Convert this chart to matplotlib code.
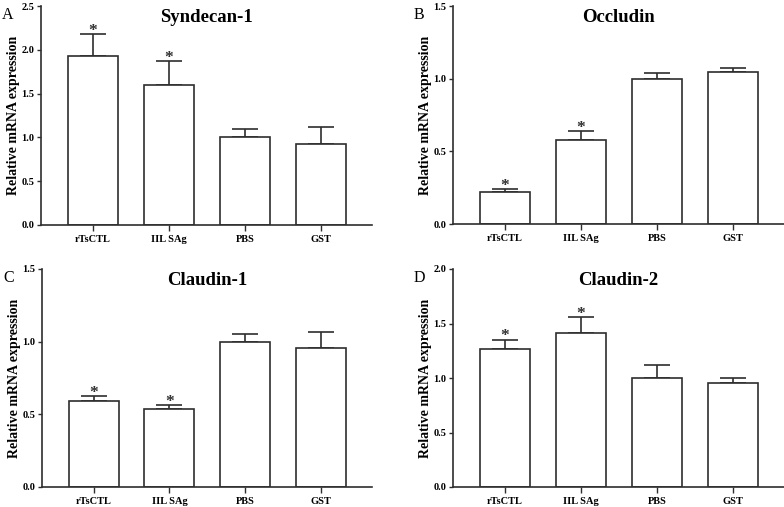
import numpy as np
import matplotlib.pyplot as plt

# ------------------------------------------------------------
# Data (mean and upper error bar)
# ------------------------------------------------------------
groups = ["rTsCTL", "IIL SAg", "PBS", "GST"]

syndecan_mean = [1.93, 1.60, 1.00, 0.93]
syndecan_err = [0.25, 0.27, 0.10, 0.185]

occludin_mean = [0.22, 0.58, 1.00, 1.045]
occludin_err = [0.02, 0.057, 0.04, 0.025]

claudin1_mean = [0.59, 0.54, 1.00, 0.953]
claudin1_err = [0.033, 0.023, 0.056, 0.115]

claudin2_mean = [1.27, 1.41, 1.00, 0.955]
claudin2_err = [0.083, 0.152, 0.123, 0.048]

# which bars carry a significance star
stars_a = [True, True, False, False]
stars_b = [True, True, False, False]
stars_c = [True, True, False, False]
stars_d = [True, True, False, False]

panels = [
    ("A", "Syndecan-1", syndecan_mean, syndecan_err, stars_a, 2.5, 0.5),
    ("B", "Occludin", occludin_mean, occludin_err, stars_b, 1.5, 0.5),
    ("C", "Claudin-1", claudin1_mean, claudin1_err, stars_c, 1.5, 0.5),
    ("D", "Claudin-2", claudin2_mean, claudin2_err, stars_d, 2.0, 0.5),
]

W, H = 784, 507
plt.rcParams["font.family"] = ["Liberation Serif", "DejaVu Serif"]
fig = plt.figure(figsize=(W / 100, H / 100), dpi=100)

# axes boxes in pixels: left, top(y of ymax), width, height
boxes = [
    (41, 6, 331, 219),
    (453, 6, 331, 218),
    (42, 269, 330, 218),
    (453, 269, 331, 218),
]

ink = "#2e2e2e"
x = np.arange(len(groups))

for (letter, title, mean, err, stars, ymax, step), (l, t, w, h) in zip(panels, boxes):
    ax = fig.add_axes([l / W, 1 - (t + h) / H, w / W, h / H])
    ax.bar(x, mean, width=0.66, color="white", edgecolor=ink, linewidth=1.2, zorder=2)
    ax.errorbar(x, mean, yerr=[np.zeros(len(mean)), err], fmt="none",
                ecolor=ink, elinewidth=1.2, capsize=9.4, capthick=1.2, zorder=1)
    for xi, m, e, s in zip(x, mean, err, stars):
        if s:
            ax.annotate("*", (xi, m + e), xytext=(0, -3.5), textcoords="offset points",
                        ha="center", va="bottom", fontsize=12.5, fontweight="bold",
                        color=ink)

    ax.set_xlim(-0.68, 3.67)
    ax.set_ylim(0, ymax)
    ax.set_yticks(np.arange(0, ymax + 1e-9, step))
    ax.set_yticklabels([f"{v:.1f}" for v in np.arange(0, ymax + 1e-9, step)])
    ax.set_xticks(x)
    ax.set_xticklabels(groups)
    for sp in ("top", "right"):
        ax.spines[sp].set_visible(False)
    for sp in ("left", "bottom"):
        ax.spines[sp].set_linewidth(1.2)
        ax.spines[sp].set_color(ink)
    ax.tick_params(axis="y", direction="out", length=3, width=1.0, colors=ink,
                   labelsize=7.5, pad=2)
    ax.tick_params(axis="x", direction="out", length=4, width=1.0, colors=ink,
                   labelsize=7.5, pad=3)
    for lab in ax.get_xticklabels() + ax.get_yticklabels():
        lab.set_fontweight("bold")
        lab.set_color("black")
    ax.set_ylabel("Relative mRNA expression", fontsize=10, fontweight="bold", labelpad=1)
    ax.text(0.5, 0.985, title, transform=ax.transAxes, ha="center", va="top",
            fontsize=13.5, fontweight="bold")
    fig.text((l - 39) / W, 1 - (t + 1) / H, letter, ha="left", va="top", fontsize=11.5)

fig.savefig("out.png", dpi=100)
